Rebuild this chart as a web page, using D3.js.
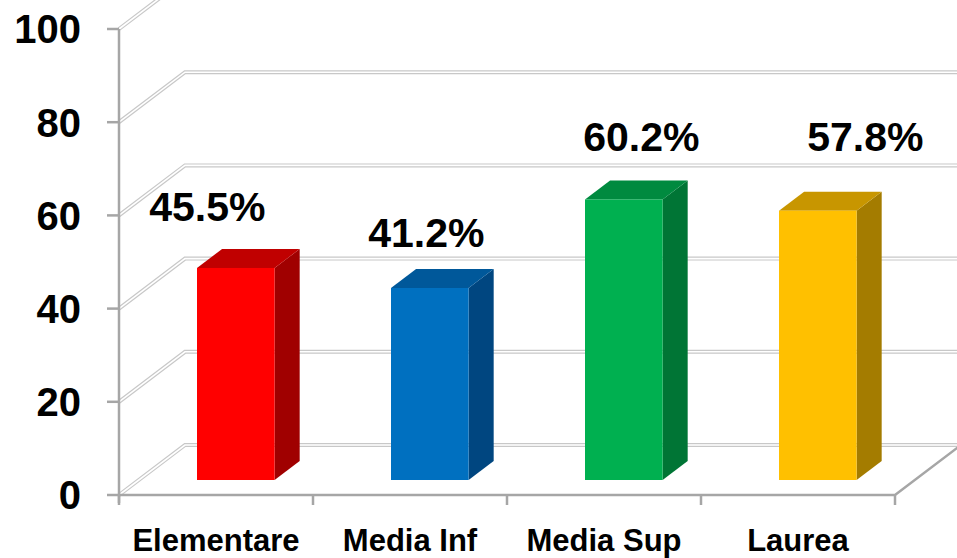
<!DOCTYPE html>
<meta charset="utf-8">
<style>
body { margin: 0; background: #fff; }
text { font-family: "Liberation Sans", Arial, sans-serif; font-weight: bold; fill: #000; }
</style>
<svg width="957" height="558"></svg>
<script src="https://d3js.org/d3.v7.min.js"></script>
<script>

var categories = ["Elementare", "Media Inf", "Media Sup", "Laurea"];
var values = [45.5, 41.2, 60.2, 57.8];
var yTicks = [0, 20, 40, 60, 80, 100];

var fronts = ["#ff0000", "#0070c0", "#00b050", "#ffc000"],
    tops   = ["#c00000", "#00589a", "#008a3f", "#c89600"],
    sides  = ["#a00000", "#004680", "#007535", "#a47c00"];

// hand-placed value labels in the original, nudge from bar top centre
var labelNudge = [[-41, -28], [-16, -22], [5, -29], [35, -41]];

var svg = d3.select("svg"),
    plotL = 119, plotR = 895, plotB = 495, plotT = 29;

// depth: z in [0,1] -> screen offset
var depth = {dx: 66, dy: -50};
function off(z) { return [depth.dx * z, depth.dy * z]; }

var x = d3.scaleBand().domain(categories).range([plotL, plotR]),
    y = d3.scaleLinear().domain([0, 100]).range([plotB, plotT]);

var barW = x.bandwidth() * 0.4,
    zFront = 0.3, zBack = 0.68;

// side wall + back wall gridlines (double line)
var grid = svg.append("g");
yTicks.forEach(function(v) {
  var p = "M" + plotL + "," + y(v) + "L" + (plotL + depth.dx) + "," + (y(v) + depth.dy) + "L" + 980 + "," + (y(v) + depth.dy);
  grid.append("path").attr("d", p).attr("fill", "none").attr("stroke", "#c8c8c8").attr("stroke-width", 4);
  grid.append("path").attr("d", p).attr("fill", "none").attr("stroke", "#fff").attr("stroke-width", 1.6);
});

// floor front + right edge
svg.append("path")
    .attr("d", "M" + plotL + "," + plotB + "L" + plotR + "," + plotB + "L" + (plotR + depth.dx * 1.2) + "," + (plotB + depth.dy * 1.2))
    .attr("fill", "none").attr("stroke", "#a6a6a6").attr("stroke-width", 2.5);

// y axis
svg.append("line").attr("x1", plotL).attr("x2", plotL).attr("y1", plotT).attr("y2", plotB + 8)
    .attr("stroke", "#a6a6a6").attr("stroke-width", 2.5);
svg.append("g").selectAll("line").data(yTicks).enter().append("line")
    .attr("x1", plotL - 12).attr("x2", plotL)
    .attr("y1", function(d) { return y(d); }).attr("y2", function(d) { return y(d); })
    .attr("stroke", "#a6a6a6").attr("stroke-width", 2.5);
svg.append("g").selectAll("text").data(yTicks).enter().append("text")
    .attr("x", 81).attr("y", function(d) { return y(d); })
    .attr("dy", "0.36em").attr("text-anchor", "end")
    .style("font-size", "40px")
    .text(function(d) { return d; });

// x axis ticks + labels
var xEdges = categories.map(function(c) { return x(c); }).concat([plotR]);
svg.append("g").selectAll("line").data(xEdges).enter().append("line")
    .attr("x1", function(d) { return d; }).attr("x2", function(d) { return d; })
    .attr("y1", plotB).attr("y2", plotB + 10)
    .attr("stroke", "#a6a6a6").attr("stroke-width", 2.5);
svg.append("g").selectAll("text").data(categories).enter().append("text")
    .attr("x", function(d) { return x(d) + x.bandwidth() / 2; })
    .attr("y", 551).attr("text-anchor", "middle")
    .style("font-size", "31px")
    .text(function(d) { return d; });

// 3d bars
var bars = svg.append("g").selectAll("g").data(values).enter().append("g");

function barGeom(d, i) {
  var o1 = off(zFront), o2 = off(zBack),
      x0 = x(categories[i]) + x.bandwidth() / 2 - barW / 2 + o1[0],
      x1 = x0 + barW,
      yb = y(0) + o1[1], yt = y(d) + o1[1],
      ddx = o2[0] - o1[0], ddy = o2[1] - o1[1];
  return {x0: x0, x1: x1, yb: yb, yt: yt, ddx: ddx, ddy: ddy};
}

bars.append("path")
    .attr("d", function(d, i) {
      var g = barGeom(d, i);
      return "M" + g.x1 + "," + g.yb + "L" + (g.x1 + g.ddx) + "," + (g.yb + g.ddy) +
             "L" + (g.x1 + g.ddx) + "," + (g.yt + g.ddy) + "L" + g.x1 + "," + g.yt + "Z";
    })
    .attr("fill", function(d, i) { return sides[i]; });

bars.append("path")
    .attr("d", function(d, i) {
      var g = barGeom(d, i);
      return "M" + g.x0 + "," + g.yt + "L" + (g.x0 + g.ddx) + "," + (g.yt + g.ddy) +
             "L" + (g.x1 + g.ddx) + "," + (g.yt + g.ddy) + "L" + g.x1 + "," + g.yt + "Z";
    })
    .attr("fill", function(d, i) { return tops[i]; });

bars.append("rect")
    .attr("x", function(d, i) { return barGeom(d, i).x0; })
    .attr("y", function(d, i) { return barGeom(d, i).yt; })
    .attr("width", barW)
    .attr("height", function(d, i) { var g = barGeom(d, i); return g.yb - g.yt; })
    .attr("fill", function(d, i) { return fronts[i]; });

// value labels
svg.append("g").selectAll("text").data(values).enter().append("text")
    .attr("x", function(d, i) { var g = barGeom(d, i); return (g.x0 + g.x1 + g.ddx) / 2 + labelNudge[i][0]; })
    .attr("y", function(d, i) { var g = barGeom(d, i); return g.yt + g.ddy + labelNudge[i][1]; })
    .attr("text-anchor", "middle")
    .style("font-size", "41px")
    .text(function(d) { return d.toFixed(1) + "%"; });

</script>
